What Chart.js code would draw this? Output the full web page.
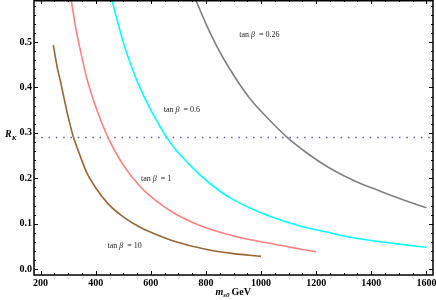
<!DOCTYPE html>
<html>
<head>
<meta charset="utf-8">
<script src="https://cdn.jsdelivr.net/npm/chart.js@4"></script>
<style>
  body { margin: 0; background: #fff; }
  canvas { display: block; }
</style>
</head>
<body>
<canvas id="rkChart" width="436" height="300"></canvas>
<script>
// Curves: m (GeV) and R_K for each tan beta
const mTan10 = [246, 260, 271, 297, 319, 340, 367, 400, 446, 500, 561, 620, 682, 803, 900, 1000];
const rTan10 = [0.493, 0.445, 0.416, 0.343, 0.291, 0.255, 0.213, 0.179, 0.143, 0.115, 0.092, 0.076, 0.062, 0.043, 0.034, 0.028];

const mTan1 = [311, 329, 350, 368, 395, 420, 446, 500, 561, 620, 682, 790, 900, 1020, 1100, 1200];
const rTan1 = [0.5925, 0.526, 0.466, 0.419, 0.366, 0.325, 0.288, 0.229, 0.182, 0.150, 0.124, 0.093, 0.073, 0.058, 0.049, 0.038];

const mTan06 = [459, 480, 510, 553, 600, 664, 700, 779, 850, 899, 1020, 1141, 1250, 1300, 1400, 1500, 1600];
const rTan06 = [0.5925, 0.543, 0.480, 0.410, 0.350, 0.284, 0.256, 0.207, 0.172, 0.153, 0.119, 0.095, 0.080, 0.073, 0.063, 0.055, 0.048];

const mTan026 = [763, 800, 840, 887, 960, 1020, 1093, 1170, 1250, 1340, 1431, 1500, 1600];
const rTan026 = [0.5925, 0.540, 0.490, 0.440, 0.375, 0.335, 0.291, 0.254, 0.222, 0.194, 0.172, 0.156, 0.135];

const rkLine = 0.29;  // dotted horizontal line

// Curve labels (text, m, R)
const labelText = ['0.26', '0.6', '1', '10'];
const labelM = [994, 713, 619, 505];
const labelR = [0.515, 0.35, 0.198, 0.051];

const xMin = 176, xMax = 1624;
const yMin = -0.013, yMax = 0.5925;
const xTicks = [200, 400, 600, 800, 1000, 1200, 1400, 1600];
const yTicks = [0, 0.1, 0.2, 0.3, 0.4, 0.5];

function toPoints(ms, rs) {
    return ms.map((m, i) => ({ x: m, y: rs[i] }));
}

function curve(ms, rs, color) {
    return {
        data: toPoints(ms, rs),
        borderColor: color,
        borderWidth: 1.6,
        pointRadius: 0,
        cubicInterpolationMode: 'monotone',
        fill: false
    };
}

// Frame with inward ticks on all four sides, plus axis titles and curve labels
const framePlugin = {
    id: 'frame',
    afterDatasetsDraw(chart) {
        const ctx = chart.ctx;
        const a = chart.chartArea;
        const xs = chart.scales.x, ys = chart.scales.y;
        ctx.save();
        ctx.strokeStyle = '#000';
        ctx.lineWidth = 1;

        // minor / major ticks along x
        for (let v = 0; v <= 2000; v += 50) {
            if (v < xMin || v > xMax) continue;
            const px = Math.round(xs.getPixelForValue(v)) + 0.5;
            const len = v % 200 === 0 ? 4 : 2;
            ctx.beginPath();
            ctx.moveTo(px, a.bottom); ctx.lineTo(px, a.bottom - len);
            ctx.moveTo(px, a.top); ctx.lineTo(px, a.top + len);
            ctx.stroke();
        }
        // ticks along y
        for (let i = 0; i <= 30; i++) {
            const v = i * 0.02;
            if (v < yMin || v > yMax) continue;
            const py = Math.round(ys.getPixelForValue(v)) + 0.5;
            const len = i % 5 === 0 ? 4 : 2;
            ctx.beginPath();
            ctx.moveTo(a.left, py); ctx.lineTo(a.left + len, py);
            ctx.moveTo(a.right, py); ctx.lineTo(a.right - len, py);
            ctx.stroke();
        }
        // frame
        ctx.lineWidth = 1.5;
        ctx.strokeRect(a.left, a.top + 0.75, a.right - a.left, a.bottom - a.top - 0.75);

        // curve labels: tan β = ...
        ctx.fillStyle = '#222';
        ctx.textBaseline = 'middle';
        labelText.forEach((t, i) => {
            const cx = xs.getPixelForValue(labelM[i]);
            const cy = ys.getPixelForValue(labelR[i]);
            const parts = [
                ['tan ', '8px "Liberation Serif"'],
                ['\u03B2', 'italic 8px "Liberation Serif"'],
                ['  = ' + t, '8px "Liberation Serif"']
            ];
            let w = 0;
            parts.forEach(p => { ctx.font = p[1]; w += ctx.measureText(p[0]).width; });
            let x = cx - w / 2;
            ctx.textAlign = 'left';
            parts.forEach(p => {
                ctx.font = p[1];
                ctx.fillText(p[0], x, cy);
                x += ctx.measureText(p[0]).width;
            });
        });

        // y title R_K
        ctx.fillStyle = '#000';
        ctx.textBaseline = 'alphabetic';
        ctx.textAlign = 'left';
        const yTitleY = ys.getPixelForValue(0.29);
        ctx.font = 'bold italic 10px "Liberation Serif"';
        ctx.fillText('R', 5, yTitleY);
        const rw = ctx.measureText('R').width;
        ctx.font = 'bold italic 7px "Liberation Serif"';
        ctx.fillText('K', 5 + rw, yTitleY + 3);

        // x title m_s0 GeV
        const xTitleX = xs.getPixelForValue(835);
        const base = 295;
        ctx.font = 'bold italic 10px "Liberation Serif"';
        ctx.fillText('m', xTitleX, base);
        let xx = xTitleX + ctx.measureText('m').width;
        ctx.font = 'bold italic 7px "Liberation Serif"';
        ctx.fillText('s0', xx, base + 2);
        xx += ctx.measureText('s0').width + 2;
        ctx.font = 'bold 10px "Liberation Serif"';
        ctx.fillText('GeV', xx, base);
        ctx.restore();
    }
};

const ctx = document.getElementById('rkChart').getContext('2d');
const chart = new Chart(ctx, {
    type: 'line',
    data: {
        datasets: [
            curve(mTan10, rTan10, 'rgb(153,102,51)'),
            curve(mTan1, rTan1, 'rgb(255,128,128)'),
            curve(mTan06, rTan06, 'rgb(0,255,255)'),
            curve(mTan026, rTan026, 'rgb(128,128,128)'),
            {
                data: [{ x: xMin, y: rkLine }, { x: xMax, y: rkLine }],
                borderColor: 'rgb(90,90,170)',
                borderWidth: 1.5,
                borderDash: [1.5, 5.8],
                pointRadius: 0,
                fill: false
            }
        ]
    },
    options: {
        responsive: false,
        animation: false,
        devicePixelRatio: 1,
        layout: { padding: { top: 0, right: 3, left: 0, bottom: 0 } },
        plugins: { legend: { display: false }, tooltip: { enabled: false } },
        scales: {
            x: {
                type: 'linear',
                min: xMin, max: xMax,
                grid: { display: false, drawTicks: false },
                border: { display: false },
                afterBuildTicks: s => { s.ticks = xTicks.map(v => ({ value: v })); },
                afterFit: s => { s.height = 25; s.paddingLeft = 0; s.paddingRight = 0; },
                ticks: {
                    padding: 2,
                    maxRotation: 0,
                    color: '#000',
                    callback: v => String(v),
                    font: { family: 'Liberation Serif', size: 10, weight: 'bold' }
                }
            },
            y: {
                type: 'linear',
                min: yMin, max: yMax,
                grid: { display: false, drawTicks: false },
                border: { display: false },
                afterBuildTicks: s => { s.ticks = yTicks.map(v => ({ value: v })); },
                afterFit: s => { s.width = 34; s.paddingTop = 0; s.paddingBottom = 0; },
                ticks: {
                    padding: 2,
                    color: '#000',
                    callback: v => v.toFixed(1),
                    font: { family: 'Liberation Serif', size: 10, weight: 'bold' }
                }
            }
        }
    },
    plugins: [framePlugin]
});
</script>
</body>
</html>
